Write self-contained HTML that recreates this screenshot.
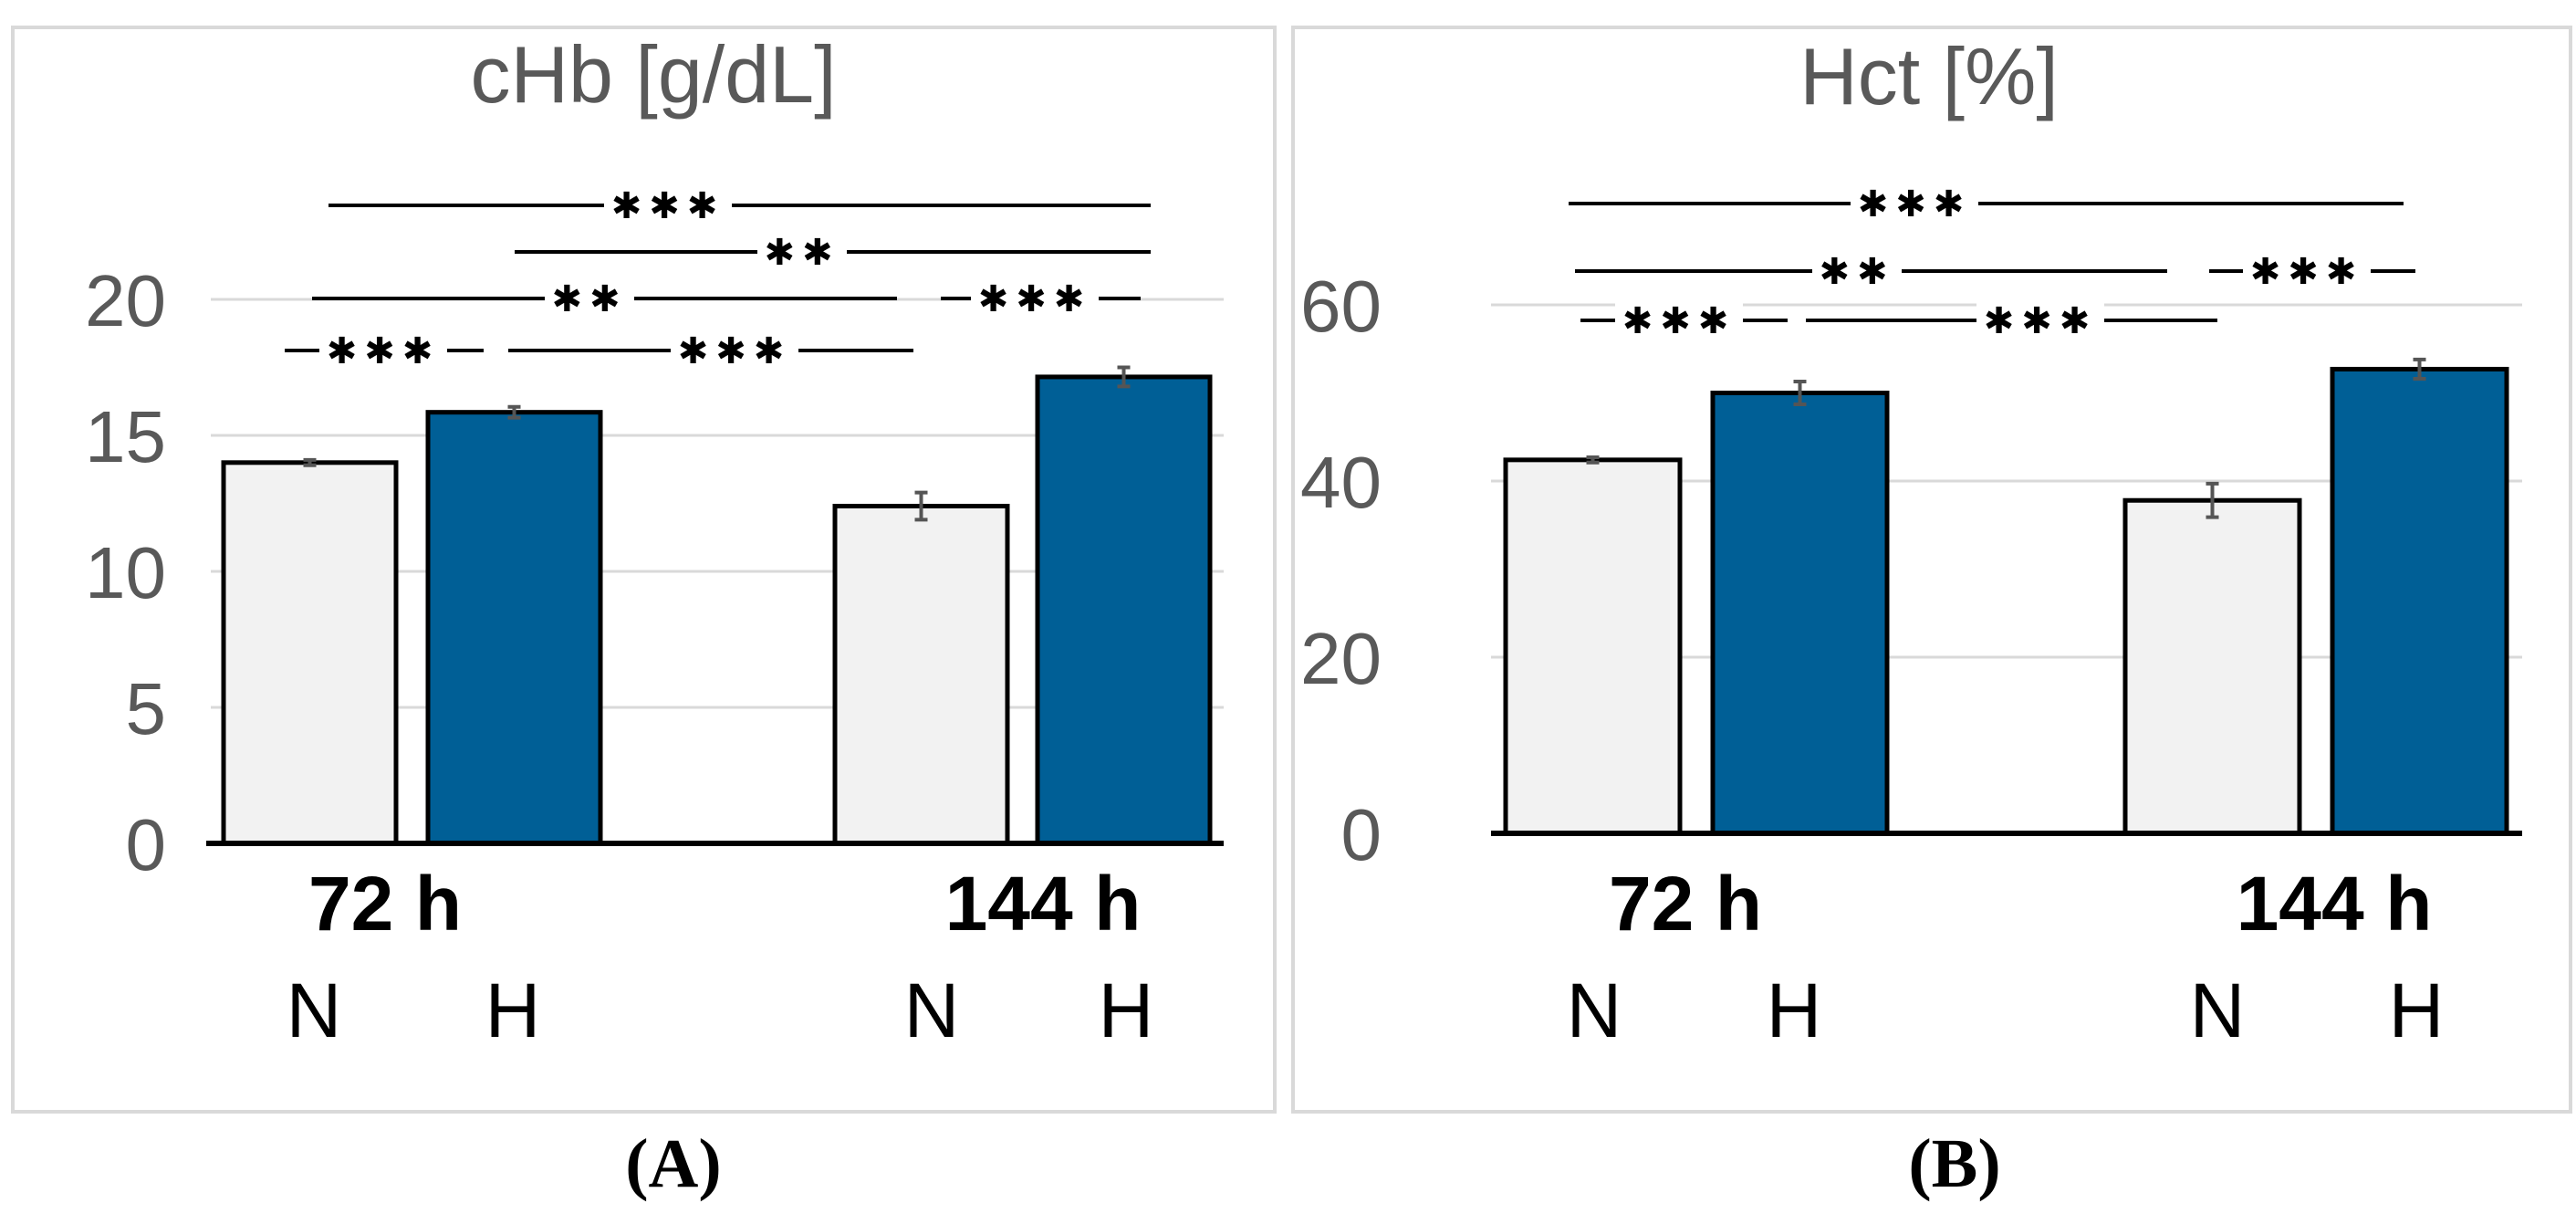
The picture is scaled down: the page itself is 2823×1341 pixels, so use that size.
<!DOCTYPE html>
<html><head><meta charset="utf-8">
<style>
html,body{margin:0;padding:0;background:#fff;}
svg{display:block;}
</style></head>
<body>
<svg id="fig" width="2823" height="1341" viewBox="0 0 2823 1341" xmlns="http://www.w3.org/2000/svg">
  <rect x="14" y="30" width="1383" height="1188" fill="#fff" stroke="#d9d9d9" stroke-width="4"/>
  <rect x="1417" y="30" width="1400" height="1188" fill="#fff" stroke="#d9d9d9" stroke-width="4"/>
  <text x="738" y="1300" text-anchor="middle" font-family="Liberation Serif, serif" font-weight="bold" font-size="76">(A)</text>
  <text x="2142" y="1300" text-anchor="middle" font-family="Liberation Serif, serif" font-weight="bold" font-size="76">(B)</text>
  <g id="pa"></g>
  <g id="pb"></g>
</svg>
<script>
// Panel A data (cHb g/dL)
const catsA = ["N", "H", "N", "H"];
const valsA = [14.0, 15.85, 12.4, 17.15];
const errsA = [0.1, 0.2, 0.5, 0.35];
const ticksA = [0, 5, 10, 15, 20];
// Panel B data (Hct %)
const catsB = ["N", "H", "N", "H"];
const valsB = [42.4, 50.0, 37.8, 52.7];
const errsB = [0.3, 1.3, 1.9, 1.1];
const ticksB = [0, 20, 40, 60];
const groups = ["72 h", "144 h"];
const sigLabelsA = ["***", "**", "**", "***", "***", "***"];
const sigLabelsB = ["***", "**", "***", "***", "***"];

const NS = "http://www.w3.org/2000/svg";
function mk(parent, tag, attrs, txt) {
  const e = document.createElementNS(NS, tag);
  for (const k in attrs) e.setAttribute(k, attrs[k]);
  if (txt !== undefined) e.textContent = txt;
  parent.appendChild(e);
  return e;
}

function draw(g, cfg) {
  const y = v => cfg.y0 - (v - 0) / cfg.vmax * (cfg.y0 - cfg.yTop);
  const t = mk(g, "text", {x: cfg.titleX, y: cfg.titleY, "text-anchor": "middle", "font-family": "Liberation Sans, sans-serif", "font-size": 88, fill: "#595959"}, cfg.title);
  
  
  cfg.ticks.forEach(v => {
    if (v > 0) {
      const gl = mk(g, "line", {x1: cfg.gx1, x2: cfg.gx2, y1: y(v), y2: y(v), stroke: "#d9d9d9", "stroke-width": 3});
      
      
    }
    const tl = mk(g, "text", {x: cfg.tickX, y: y(v) + 29, "text-anchor": "end", "font-family": "Liberation Sans, sans-serif", "font-size": 80, fill: "#595959"}, String(v));
    
    
  });
  cfg.vals.forEach((v, i) => {
    const x0 = cfg.barX[i], w = cfg.barW;
    const r = mk(g, "rect", {x: x0, y: y(v), width: w, height: cfg.y0 - y(v), fill: i % 2 ? "#005f96" : "#f2f2f2", stroke: "#000", "stroke-width": 5});
    
    
    const cx = x0 + w / 2, e = cfg.errs[i];
    const eb = mk(g, "path", {d: `M${cx - 7},${y(v + e)}H${cx + 7}M${cx},${y(v + e)}V${y(v - e)}M${cx - 7},${y(v - e)}H${cx + 7}`, stroke: "#555", "stroke-width": 4, fill: "none"});
    
    
    const cl = mk(g, "text", {x: cfg.catX[i], y: 1136, "text-anchor": "middle", "font-family": "Liberation Sans, sans-serif", "font-size": 84, fill: "#000"}, cfg.cats[i]);
    
    
  });
  const ax = mk(g, "line", {x1: cfg.ax1, x2: cfg.ax2, y1: cfg.y0, y2: cfg.y0, stroke: "#000", "stroke-width": 6});
  
  
  groups.forEach((s, i) => {
    const gl = mk(g, "text", {x: cfg.groupX[i], y: 1019, "text-anchor": "middle", "font-family": "Liberation Sans, sans-serif", "font-weight": "bold", "font-size": 84, fill: "#000"}, s);
    
    
  });
  cfg.sig.forEach((s, i) => {
    const ln = mk(g, "line", {x1: s[0], x2: s[1], y1: s[2], y2: s[2], stroke: "#000", "stroke-width": 4});
    
    
    const lab = cfg.sigLabels[i];
    const w = lab.length * 42 + 14;
    mk(g, "rect", {x: s[3] - w / 2, y: s[2] - 20, width: w, height: 40, fill: "#fff"});
    const st = mk(g, "text", {x: s[3], y: s[2] + 14, "text-anchor": "middle", "font-family": "DejaVu Sans, sans-serif", "font-size": 40, "letter-spacing": 8, fill: "#000"}, "✱".repeat(lab.length));
    
    
  });
}

draw(document.getElementById("pa"), {
  title: "cHb [g/dL]", titleX: 716, titleY: 112,
  y0: 924, yTop: 328, vmax: 20, ticks: ticksA, tickX: 182,
  gx1: 231, gx2: 1341, ax1: 226, ax2: 1341,
  vals: valsA, errs: errsA, cats: catsA,
  barX: [245, 469, 915, 1137], barW: 189,
  catX: [344, 562, 1021, 1234], groupX: [422, 1143],
  sig: [[360, 1261, 225, 732], [564, 1261, 276, 879], [342, 983, 327, 646], [1031, 1250, 327, 1134], [312, 530, 384, 420], [557, 1001, 384, 805]],
  sigLabels: sigLabelsA
});
draw(document.getElementById("pb"), {
  title: "Hct [%]", titleX: 2114, titleY: 114,
  y0: 913, yTop: 334, vmax: 60, ticks: ticksB, tickX: 1514,
  gx1: 1634, gx2: 2764, ax1: 1634, ax2: 2764,
  vals: valsB, errs: errsB, cats: catsB,
  barX: [1650, 1877, 2329, 2556], barW: 191,
  catX: [1747, 1966, 2430, 2648], groupX: [1847, 2558],
  sig: [[1719, 2634, 223, 2098], [1726, 2375, 297, 2035], [2421, 2647, 297, 2528], [1732, 1959, 351, 1840], [1979, 2430, 351, 2236]],
  sigLabels: sigLabelsB
});
</script>
</body></html>
